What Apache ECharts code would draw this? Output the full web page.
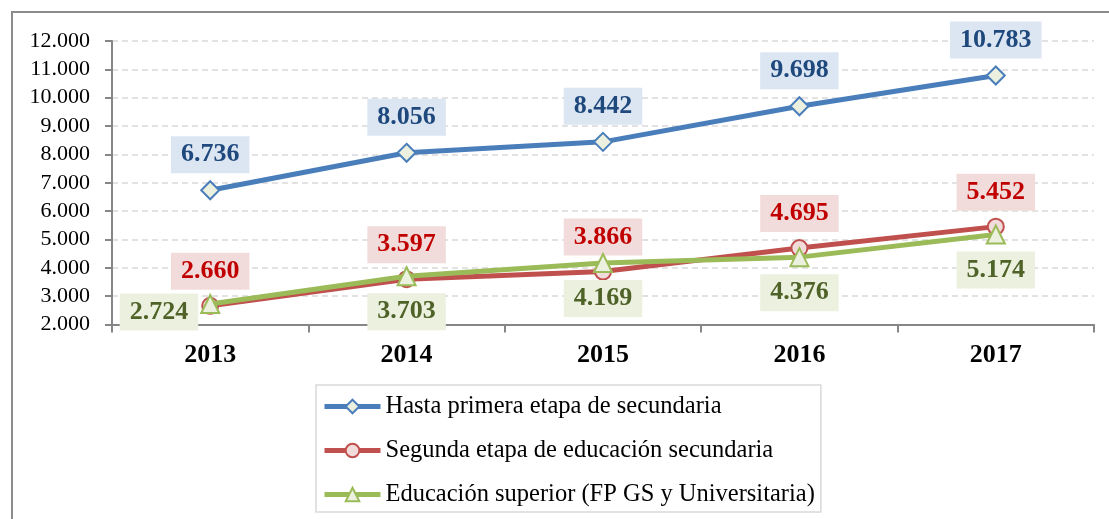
<!DOCTYPE html>
<html>
<head>
<meta charset="utf-8">
<script src="https://cdn.jsdelivr.net/npm/echarts@6/dist/echarts.min.js"></script>
<style>
  html, body { margin: 0; padding: 0; background: #fff; }
  #chart { width: 1109px; height: 519px; }
</style>
</head>
<body>
<div id="chart"></div>
<script>
// datos del gráfico
const years = ['2013', '2014', '2015', '2016', '2017'];
const hastaPrimera = [6736, 8056, 8442, 9698, 10783];
const segundaEtapa = [2660, 3597, 3866, 4695, 5452];
const superior = [2724, 3703, 4169, 4376, 5174];
const seriesNames = [
  'Hasta primera etapa de secundaria',
  'Segunda etapa de educación secundaria',
  'Educación superior (FP GS y Universitaria)'
];

const serif = 'Liberation Serif';

// formato español: punto como separador de miles
function fmtMiles(v) {
  return String(v).replace(/\B(?=(\d{3})+(?!\d))/g, '.');
}

function labelStyle(position, textColor, bgColor) {
  return {
    show: true,
    position: position,
    distance: 7,
    formatter: p => fmtMiles(p.value),
    fontFamily: serif,
    fontSize: 26,
    fontWeight: 'bold',
    lineHeight: 25,
    color: textColor,
    backgroundColor: bgColor,
    padding: [6, 10]
  };
}

const chartDom = document.getElementById('chart');
const chart = echarts.init(chartDom);

// el primer punto de la serie verde lleva la etiqueta a la izquierda
const superiorData = superior.map((v, i) => i === 0
  ? { value: v, label: { position: 'left', distance: 2, offset: [0, 8] } }
  : v);

const option = {
  backgroundColor: '#fff',
  animation: false,
  graphic: [{
    type: 'rect',
    z: -10,
    shape: { x: 12, y: 12, width: 1200, height: 600 },
    style: { fill: 'none', stroke: '#8c8c8c', lineWidth: 2 }
  }],
  grid: { left: 112, right: 15, top: 41, bottom: 194.5 },
  legend: {
    orient: 'vertical',
    left: 316,
    top: 385,
    data: seriesNames,
    itemWidth: 56,
    itemHeight: 17,
    itemGap: 19,
    padding: [9, 6, 5, 6],
    borderColor: '#d9d9d9',
    borderWidth: 1.5,
    lineStyle: { width: 5 },
    textStyle: { fontFamily: serif, fontSize: 24.5, lineHeight: 25, color: '#000' }
  },
  xAxis: {
    type: 'category',
    data: years,
    boundaryGap: true,
    axisLine: { lineStyle: { color: '#868686', width: 2 } },
    axisTick: { show: true, length: 8, lineStyle: { color: '#868686', width: 2 } },
    axisLabel: {
      margin: 18,
      fontFamily: serif,
      fontSize: 26,
      fontWeight: 'bold',
      color: '#000'
    }
  },
  yAxis: {
    type: 'value',
    min: 2000,
    max: 12000,
    interval: 1000,
    axisLine: { show: true, lineStyle: { color: '#868686', width: 2 } },
    axisTick: { show: true, length: 7, lineStyle: { color: '#868686', width: 2 } },
    splitLine: { lineStyle: { color: '#d9d9d9', width: 1.5, type: [6, 4] } },
    axisLabel: {
      margin: 22,
      fontFamily: serif,
      fontSize: 22,
      color: '#000',
      formatter: v => fmtMiles(v)
    }
  },
  series: [
    {
      name: seriesNames[0],
      type: 'line',
      data: hastaPrimera,
      symbol: 'diamond',
      symbolSize: 18,
      lineStyle: { color: '#4A7EBB', width: 5 },
      itemStyle: { color: '#EBF1DE', borderColor: '#4A7EBB', borderWidth: 2 },
      label: labelStyle('top', '#1F497D', '#DCE6F2'),
      z: 2
    },
    {
      name: seriesNames[1],
      type: 'line',
      data: segundaEtapa,
      symbol: 'circle',
      symbolSize: 16,
      lineStyle: { color: '#C0504D', width: 5 },
      itemStyle: { color: '#F2DCDB', borderColor: '#C0504D', borderWidth: 2 },
      label: labelStyle('top', '#C00000', '#F2DCDB'),
      z: 3
    },
    {
      name: seriesNames[2],
      type: 'line',
      data: superiorData,
      symbol: 'triangle',
      symbolSize: 18,
      lineStyle: { color: '#9BBB59', width: 5 },
      itemStyle: { color: '#EBF1DE', borderColor: '#9BBB59', borderWidth: 2 },
      label: labelStyle('bottom', '#4F6228', '#EBF1DE'),
      z: 4
    }
  ]
};

chart.setOption(option);
window.addEventListener('resize', () => chart && chart.resize());
</script>
</body>
</html>
